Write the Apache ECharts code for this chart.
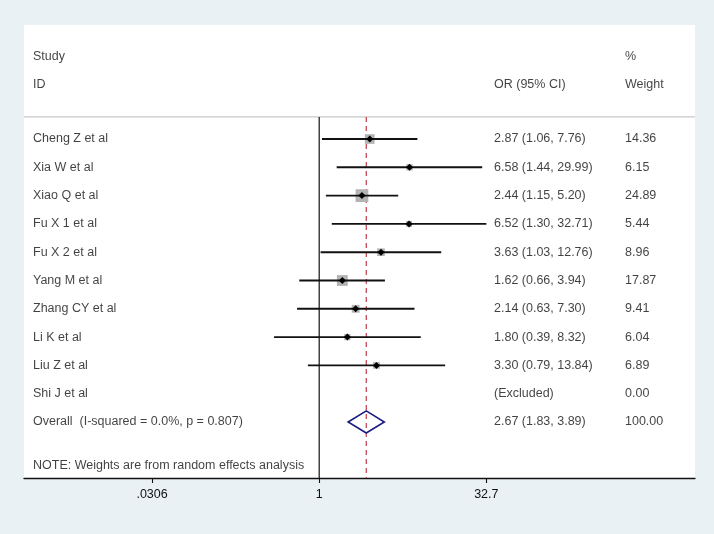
<!DOCTYPE html>
<html>
<head>
<meta charset="utf-8">
<script src="https://cdn.jsdelivr.net/npm/echarts@6/dist/echarts.min.js"></script>
<style>
  html, body { margin: 0; padding: 0; background: #e9f1f4; }
  #chart { width: 714px; height: 534px; }
</style>
</head>
<body>
<div id="chart"></div>
<script>
// ---- data ----
const studies = ['Cheng Z et al', 'Xia W et al', 'Xiao Q et al', 'Fu X 1 et al', 'Fu X 2 et al',
                 'Yang M et al', 'Zhang CY et al', 'Li K et al', 'Liu Z et al', 'Shi J et al'];
const orValues = [2.87, 6.58, 2.44, 6.52, 3.63, 1.62, 2.14, 1.80, 3.30, null];
const ciLow    = [1.06, 1.44, 1.15, 1.30, 1.03, 0.66, 0.63, 0.39, 0.79, null];
const ciHigh   = [7.76, 29.99, 5.20, 32.71, 12.76, 3.94, 7.30, 8.32, 13.84, null];
const weights  = [14.36, 6.15, 24.89, 5.44, 8.96, 17.87, 9.41, 6.04, 6.89, 0.00];
const overallLabel = 'Overall  (I-squared = 0.0%, p = 0.807)';
const overallOR = [2.67];
const overallLow = [1.83];
const overallHigh = [3.89];
const overallWeight = [100.00];
const tickValues = [0.0306, 1, 32.7];
const tickLabels = ['.0306', '1', '32.7'];
const noteText = 'NOTE: Weights are from random effects analysis';

// ---- layout ----
const FONT = "'Liberation Sans', Arial, Helvetica, sans-serif";
const FS = 12.5;
const TXT = '#111111';
const gridLeft = 24, gridRight = 19, gridTop = 25, gridBottom = 56;
const xMin = -6.159, xMax = 7.841;          // ln(OR) extent of the plot region
const yMin = -4.03, yMax = 11.98;           // row units (inverse)
const plotW = 714 - gridLeft - gridRight;
const pxToX = px => xMin + (px - gridLeft) / plotW * (xMax - xMin);
const colStudy = pxToX(33), colOR = pxToX(494), colW = pxToX(625);
const rowHead1 = -2.92, rowHead2 = -1.94, rowSep = -0.78, rowNote = 11.55;
const overallRow = studies.length;

const fmt = v => v.toFixed(2);

// text items
const textData = [];
textData.push({ value: [colStudy, rowHead1], name: 'Study' });
textData.push({ value: [colStudy, rowHead2], name: 'ID' });
textData.push({ value: [colOR, rowHead2], name: 'OR (95% CI)' });
textData.push({ value: [colW, rowHead1], name: '%' });
textData.push({ value: [colW, rowHead2], name: 'Weight' });
studies.forEach((s, i) => {
  textData.push({ value: [colStudy, i], name: s });
  const orTxt = orValues[i] == null ? '(Excluded)'
    : `${fmt(orValues[i])} (${fmt(ciLow[i])}, ${fmt(ciHigh[i])})`;
  textData.push({ value: [colOR, i], name: orTxt });
  textData.push({ value: [colW, i], name: fmt(weights[i]) });
});
textData.push({ value: [colStudy, overallRow], name: overallLabel });
textData.push({ value: [colOR, overallRow], name: `${fmt(overallOR[0])} (${fmt(overallLow[0])}, ${fmt(overallHigh[0])})` });
textData.push({ value: [colW, overallRow], name: fmt(overallWeight[0]) });
textData.push({ value: [colStudy, rowNote], name: noteText });

// study marks
const studyData = [];
studies.forEach((s, i) => {
  if (orValues[i] == null) return;
  studyData.push([Math.log(orValues[i]), i, Math.log(ciLow[i]), Math.log(ciHigh[i]), weights[i]]);
});

const chart = echarts.init(document.getElementById('chart'), null, { renderer: 'canvas' });
chart.setOption({
  backgroundColor: '#e9f1f4',
  animation: false,
  grid: { left: gridLeft, right: gridRight, top: gridTop, bottom: gridBottom,
          show: true, backgroundColor: '#ffffff', borderWidth: 0 },
  xAxis: {
    type: 'value', min: xMin, max: xMax,
    splitLine: { show: false },
    axisLine: { show: true, onZero: false, lineStyle: { color: '#111', width: 1.3 } },
    axisTick: { show: true, length: 5, lineStyle: { color: '#111', width: 1.1 },
                customValues: tickValues.map(v => Math.log(v)) },
    axisLabel: {
      show: true, margin: 10, color: TXT, fontFamily: FONT, fontSize: FS,
      customValues: tickValues.map(v => Math.log(v)),
      formatter: v => {
        const i = tickValues.findIndex(t => Math.abs(Math.log(t) - v) < 1e-6);
        return i >= 0 ? tickLabels[i] : '';
      }
    }
  },
  yAxis: { type: 'value', min: yMin, max: yMax, inverse: true, show: false, splitLine: { show: false } },
  series: [
    { // header separator + reference lines
      type: 'custom',
      silent: true,
      data: [[0]],
      renderItem: (params, api) => {
        const sepL = api.coord([xMin, rowSep]);
        const sepR = api.coord([xMax, rowSep]);
        const oneT = api.coord([0, rowSep]);
        const oneB = api.coord([0, yMax]);
        const ovT = api.coord([Math.log(overallOR[0]), rowSep]);
        const ovB = api.coord([Math.log(overallOR[0]), yMax]);
        return { type: 'group', children: [
          { type: 'line', shape: { x1: sepL[0], y1: sepL[1], x2: sepR[0], y2: sepR[1] },
            style: { stroke: '#c9c9c9', lineWidth: 1.2 } },
          { type: 'line', shape: { x1: oneT[0], y1: oneT[1], x2: oneB[0], y2: oneB[1] },
            style: { stroke: '#111', lineWidth: 1.2 } },
          { type: 'line', shape: { x1: ovT[0], y1: ovT[1], x2: ovB[0], y2: ovB[1] },
            style: { stroke: '#c23a4a', lineWidth: 1.2, lineDash: [5, 4] } }
        ]};
      }
    },
    { // study boxes, CIs and point estimates
      type: 'custom',
      silent: true,
      encode: { x: [0, 2, 3], y: 1 },
      data: studyData,
      renderItem: (params, api) => {
        const row = api.value(1);
        const c = api.coord([api.value(0), row]);
        const lo = api.coord([api.value(2), row]);
        const hi = api.coord([api.value(3), row]);
        const s = 2.55 * Math.sqrt(api.value(4));
        const d = 3.5;
        return { type: 'group', children: [
          { type: 'rect', shape: { x: c[0] - s / 2, y: c[1] - s / 2, width: s, height: s },
            style: { fill: '#b3b3b3' } },
          { type: 'line', shape: { x1: lo[0], y1: lo[1], x2: hi[0], y2: hi[1] },
            style: { stroke: '#111', lineWidth: 1.9 } },
          { type: 'polygon', shape: { points: [[c[0] - d, c[1]], [c[0], c[1] - d], [c[0] + d, c[1]], [c[0], c[1] + d]] },
            style: { fill: '#000' } }
        ]};
      }
    },
    { // overall diamond
      type: 'custom',
      silent: true,
      data: [[Math.log(overallOR[0]), overallRow, Math.log(overallLow[0]), Math.log(overallHigh[0])]],
      renderItem: (params, api) => {
        const row = api.value(1);
        const l = api.coord([api.value(2), row]);
        const r = api.coord([api.value(3), row]);
        const t = api.coord([api.value(0), row - 0.39]);
        const b = api.coord([api.value(0), row + 0.39]);
        return { type: 'polygon', shape: { points: [l, t, r, b] },
                 style: { fill: 'none', stroke: '#1c1c80', lineWidth: 1.6 } };
      }
    },
    { // text columns
      type: 'scatter',
      silent: true,
      symbolSize: 0,
      data: textData,
      label: { show: true, position: 'right', distance: 0, formatter: '{b}',
               color: TXT, fontFamily: FONT, fontSize: FS }
    }
  ]
});
</script>
</body>
</html>
